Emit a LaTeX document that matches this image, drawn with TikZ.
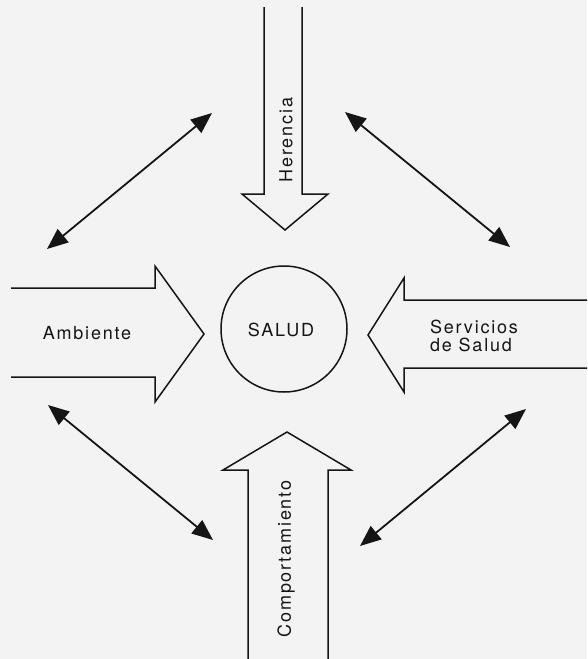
\documentclass[tikz,border=0pt]{standalone}
\usepackage{fontspec}
\usetikzlibrary{arrows.meta}
\newfontfamily\lblfont[LetterSpace=10]{TeX Gyre Heros}
\definecolor{ink}{HTML}{151515}
\definecolor{paper}{HTML}{F3F3F3}
\begin{document}
\begin{tikzpicture}[x=1pt,y=-1pt,
  blockarrow/.style={draw=ink,line width=1.5pt,line join=miter},
  link/.style={draw=ink,line width=1.8pt,{Triangle[length=21pt,width=17pt]}-{Triangle[length=21pt,width=17pt]}},
  lbl/.style={inner sep=0pt,text=ink,font=\lblfont\fontsize{18}{18}\selectfont}]
\fill[paper] (0,0) rectangle (587,659);
\useasboundingbox (0,0) rectangle (587,659);
% centre
\node[draw=ink,line width=1.5pt,circle,minimum size=126pt,inner sep=0pt] (salud) at (284,329) {};
\node[lbl] (saludtxt) at (281,330) {SALUD};
% block arrows
\draw[blockarrow] (264,7) -- (264,194) -- (242,194) -- (285,230) -- (328,194) -- (302,194) -- (302,7);
\draw[blockarrow] (11,288) -- (155,288) -- (155,266) -- (204,334) -- (155,402) -- (155,377) -- (11,377);
\draw[blockarrow] (587,300) -- (404,300) -- (404,278) -- (368,335) -- (404,392) -- (404,368) -- (587,368);
\draw[blockarrow] (248,659) -- (248,470) -- (223,470) -- (287,432) -- (351,470) -- (328,470) -- (328,659);
% labels
\node[lbl,rotate=90] (herencia) at (286,140) {Herencia};
\node[lbl] (ambiente) at (87,333) {Ambiente};
\node[lbl,align=left] (servicios) at (474,336) {Servicios\\de Salud};
\node[lbl,rotate=90] (comport) at (286,559) {Comportamiento};
% double arrows
\coordinate (ula) at (212,113); \coordinate (ulb) at (47,249);
\coordinate (ura) at (345,112); \coordinate (urb) at (510,247);
\coordinate (lla) at (48,405);  \coordinate (llb) at (213,540);
\coordinate (lra) at (526,409); \coordinate (lrb) at (360,546);
\draw[link] (ula) -- (ulb);
\draw[link] (ura) -- (urb);
\draw[link] (lla) -- (llb);
\draw[link] (lra) -- (lrb);
\end{tikzpicture}
\end{document}
